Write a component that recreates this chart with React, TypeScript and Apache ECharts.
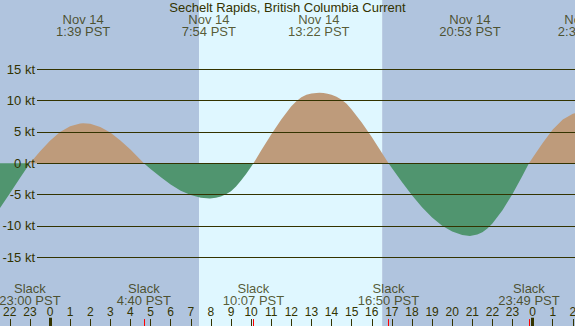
import React, { useEffect, useRef } from "react";
import * as echarts from "echarts";

// Current (knots), hours from Nov 14 00:00 PST
const currentHours = [
  -3, -2.5, -2, -1.5, -1, -0.5, 0, 0.5, 1, 1.5, 1.65, 2, 2.5, 3, 3.5, 4, 4.5, 4.667,
  5, 5.5, 6, 6.5, 7, 7.5, 7.95, 8.25, 8.5, 8.75, 9, 9.25, 9.5, 9.75, 10, 10.117,
  10.5, 11, 11.5, 12, 12.25, 12.5, 12.75, 13, 13.25, 13.4, 13.6, 13.8, 14, 14.25, 14.5, 14.75,
  15, 15.5, 16, 16.5, 16.833, 17, 17.5, 18, 18.5, 19, 19.5, 20, 20.5,
  20.88, 21.25, 21.5, 21.75, 22, 22.5, 23, 23.5, 23.817, 24, 24.5, 25, 25.5, 26, 26.5, 27,
];
const currentKnots = [
  -9.2, -7.2, -4.8, -2.4, 0, 1.9, 3.6, 5.0, 5.9, 6.35, 6.4, 6.3, 5.8, 4.9, 3.65, 2.2, 0.55, 0,
  -0.9, -2.2, -3.4, -4.4, -5.05, -5.5, -5.62, -5.5, -5.3, -4.95, -4.45, -3.7, -2.75, -1.7, -0.55, 0,
  2.05, 4.6, 7.0, 9.1, 9.9, 10.55, 10.95, 11.12, 11.22, 11.25, 11.22, 11.1, 10.95, 10.6, 10.15, 9.5,
  8.6, 6.5, 4.2, 1.7, 0, -0.75, -3.0, -5.1, -7.0, -8.65, -9.95, -10.9, -11.45,
  -11.6, -11.35, -11.0, -10.4, -9.6, -7.5, -4.9, -1.95, 0, 0.9, 3.25, 5.4, 7.0, 7.9, 8.3, 8.2,
];

const maxHours = [1.65, 7.9, 13.367, 20.883, 26.6];
const maxLabels = [
  "Nov 14\n1:39 PST",
  "Nov 14\n7:54 PST",
  "Nov 14\n13:22 PST",
  "Nov 14\n20:53 PST",
  "Nov 15\n2:36 PST",
];
const slackHours = [-1, 4.667, 10.117, 16.833, 23.817];
const slackLabels = [
  "Slack\n23:00 PST",
  "Slack\n4:40 PST",
  "Slack\n10:07 PST",
  "Slack\n16:50 PST",
  "Slack\n23:49 PST",
];
const sunriseHour = 7.417;
const sunsetHour = 16.517;
const gridLevels = [15, 10, 5, 0, -5, -10, -15];
const midnightHours = [0, 24];

const TITLE = "Sechelt Rapids, British Columbia Current";
const FONT = "'Liberation Sans', Arial, Helvetica, sans-serif";
const TEXT = "#333300";
const NIGHT = "#B0C4DE";
const DAY = "#DFF7FF";
const FLOOD = "#BE9B7B";
const EBB = "#50956F";

export default function App() {
  const ref = useRef<HTMLDivElement>(null);

  useEffect(() => {
    if (!ref.current) return;
    const chart = echarts.init(ref.current, undefined, { renderer: "svg" });

    const pos = currentHours.map((t, i) => [t, Math.max(0, currentKnots[i])]);
    const neg = currentHours.map((t, i) => [t, Math.min(0, currentKnots[i])]);

    const option: any = {
      animation: false,
      title: {
        text: TITLE,
        left: "center",
        top: 0,
        padding: 0,
        textStyle: { fontSize: 13, fontWeight: "normal", color: TEXT, fontFamily: FONT, lineHeight: 15 },
      },
      grid: {
        left: -10.33,
        top: -24.7,
        width: 603.3,
        height: 376,
        containLabel: false,
        outerBoundsMode: "none",
      },
      xAxis: {
        type: "value",
        min: -3,
        max: 27,
        interval: 1,
        offset: -25.3,
        z: 10,
        axisLine: { show: false, onZero: false },
        splitLine: { show: false },
        axisTick: { show: true, inside: true, length: 7, lineStyle: { color: TEXT, width: 1 } },
        axisLabel: {
          inside: true,
          margin: 10,
          fontSize: 12,
          lineHeight: 9,
          color: TEXT,
          fontFamily: FONT,
          formatter: (v: number) => String((((Math.round(v) % 24) + 24) % 24)),
        },
      },
      yAxis: {
        type: "value",
        min: -30,
        max: 30,
        interval: 5,
        offset: -47.33,
        z: 10,
        axisLine: { show: false, onZero: false },
        axisTick: { show: false },
        splitLine: { show: false },
        axisLabel: {
          margin: 2,
          fontSize: 13,
          color: TEXT,
          fontFamily: FONT,
          formatter: (v: number) => (Math.abs(v) <= 15 ? `${v} kt` : ""),
        },
      },
      series: [
        {
          type: "line",
          data: [],
          z: 0,
          silent: true,
          markArea: {
            silent: true,
            label: { show: false },
            data: [
              [{ xAxis: -3, itemStyle: { color: NIGHT } }, { xAxis: sunriseHour }],
              [{ xAxis: sunriseHour, itemStyle: { color: DAY } }, { xAxis: sunsetHour }],
              [{ xAxis: sunsetHour, itemStyle: { color: NIGHT } }, { xAxis: 27 }],
            ],
          },
        },
        {
          type: "line",
          data: [],
          z: 1,
          silent: true,
          markLine: {
            silent: true,
            symbol: "none",
            label: { show: false },
            lineStyle: { color: TEXT, width: 1, type: "solid" },
            data: gridLevels.map((l) => [{ coord: [-0.646, l] }, { coord: [27, l] }]),
          },
        },
        {
          type: "line",
          data: pos,
          z: 2,
          silent: true,
          symbol: "none",
          lineStyle: { width: 0, opacity: 0 },
          areaStyle: { color: FLOOD, opacity: 1 },
        },
        {
          type: "line",
          data: neg,
          z: 2,
          silent: true,
          symbol: "none",
          lineStyle: { width: 0, opacity: 0 },
          areaStyle: { color: EBB, opacity: 1 },
        },
        {
          type: "line",
          data: [],
          z: 3,
          silent: true,
          markLine: {
            silent: true,
            symbol: "none",
            label: { show: false },
            data: [
              ...midnightHours.map((h) => [
                { coord: [h, -27], lineStyle: { color: TEXT, width: 3, type: "solid" } },
                { coord: [h, -24.64] },
              ]),
              ...slackHours.map((h) => [
                { coord: [h, -27], lineStyle: { color: "#FF0000", width: 1, type: "solid" } },
                { coord: [h, -24.86] },
              ]),
            ],
          },
        },
        {
          type: "scatter",
          z: 4,
          silent: true,
          symbolSize: 0,
          data: maxHours.map((h, i) => ({ value: [h, 22.0], name: maxLabels[i] })),
          label: {
            show: true,
            position: "inside",
            formatter: (p: any) => p.name,
            fontSize: 13,
            lineHeight: 12,
            color: TEXT,
            fontFamily: FONT,
            align: "center",
          },
        },
        {
          type: "scatter",
          z: 4,
          silent: true,
          symbolSize: 0,
          data: slackHours.map((h, i) => ({ value: [h, -20.9], name: slackLabels[i] })),
          label: {
            show: true,
            position: "inside",
            formatter: (p: any) => p.name,
            fontSize: 13,
            lineHeight: 12.5,
            color: TEXT,
            fontFamily: FONT,
            align: "center",
          },
        },
      ],
    };

    chart.setOption(option);
    return () => chart.dispose();
  }, []);

  return (
    <div
      ref={ref}
      style={{ position: "absolute", left: 0, top: 0, width: 575, height: 326 }}
    />
  );
}
